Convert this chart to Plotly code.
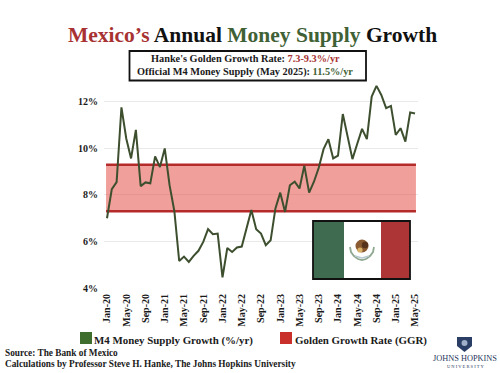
import plotly.graph_objects as go

W, H = 500, 373
ML, MR, MT, MB = 104, 82, 81, 85
month_names = ["Jan", "Feb", "Mar", "Apr", "May", "Jun", "Jul", "Aug", "Sep", "Oct", "Nov", "Dec"]
months = [f"{month_names[i % 12]}-{20 + i // 12}" for i in range(65)]
m4_growth = [7.0, 8.25, 8.55, 11.77, 10.43, 9.57, 10.8, 8.38, 8.54, 8.5, 9.66, 9.2, 10.0,
             8.42, 7.3, 5.16, 5.35, 5.12, 5.38, 5.6, 5.98, 6.53, 6.31, 6.34, 4.46, 5.72,
             5.55, 5.74, 5.78, 6.55, 7.35, 6.53, 6.34, 5.84, 6.05, 7.42, 8.1, 7.27, 8.42,
             8.57, 8.28, 9.26, 8.1, 8.57, 9.17, 9.97, 10.4, 9.57, 9.69, 11.48, 10.58, 9.54,
             10.2, 10.84, 10.4, 12.23, 12.69, 12.3, 11.73, 11.83, 10.58, 10.87, 10.29, 11.55, 11.5]
ggr_low = 7.3
ggr_high = 9.3
y_ticks = [4, 6, 8, 10, 12]
y_labels = ["4%", "6%", "8%", "10%", "12%"]
x_positions = list(range(len(months)))
tick_idx = x_positions[::4]
tick_labels = months[::4]
band_x = [-0.2, 64.2]

SERIF = "Liberation Serif"
INK = "#1a1a1a"
GREEN = "#3d4f2e"
RED = "#a83232"
BAND = "#b52a2a"


def px(x):
    return (x - ML) / (W - ML - MR)


def py(y):
    return (H - MB - y) / (H - MT - MB)


def rect(x0, y0, x1, y1, fill, line=None, lw=0, layer="above"):
    return dict(type="rect", xref="paper", yref="paper", x0=px(x0), x1=px(x1), y0=py(y0), y1=py(y1),
                fillcolor=fill, line=dict(color=line or fill, width=lw), layer=layer)


def circle(cx, cy, r, fill, line=None, lw=0):
    return dict(type="circle", xref="paper", yref="paper", x0=px(cx - r), x1=px(cx + r),
                y0=py(cy + r), y1=py(cy - r), fillcolor=fill,
                line=dict(color=line or fill, width=lw), layer="above")


def poly(points, fill):
    d = "M " + " L ".join(f"{px(a):.5f},{py(b):.5f}" for a, b in points) + " Z"
    return dict(type="path", xref="paper", yref="paper", path=d, fillcolor=fill,
                line=dict(color=fill, width=0), layer="above")


def stroke(points, color, lw):
    d = "M " + " L ".join(f"{px(a):.5f},{py(b):.5f}" for a, b in points)
    return dict(type="path", xref="paper", yref="paper", path=d,
                line=dict(color=color, width=lw), layer="above")


def label(x, y, text, size=10, color=INK, anchor="center", bold=True):
    return dict(xref="paper", yref="paper", x=px(x), y=py(y), text=f"<b>{text}</b>" if bold else text,
                showarrow=False, xanchor=anchor, yanchor="middle", align=anchor,
                font=dict(family=SERIF, size=size, color=color))


fig = go.Figure()
fig.add_trace(go.Scatter(x=band_x, y=[ggr_low, ggr_low], mode="lines",
                         line=dict(color=BAND, width=2.5), showlegend=False, hoverinfo="skip"))
fig.add_trace(go.Scatter(x=band_x, y=[ggr_high, ggr_high], mode="lines", fill="tonexty",
                         fillcolor="rgba(228,80,72,0.55)",
                         line=dict(color=BAND, width=2.5), showlegend=False, hoverinfo="skip"))
fig.add_trace(go.Scatter(x=x_positions, y=m4_growth, mode="lines",
                         line=dict(color=GREEN, width=2), showlegend=False))

shapes = [
    rect(129.5, 51, 366, 80.5, "white", "#111111", 1.8),
    # flag
    rect(313, 221, 344, 279, "#3f6b50"),
    rect(344, 221, 381, 279, "#ffffff"),
    rect(381, 221, 410, 279, "#ad3536"),
    rect(313, 221, 410, 279, "rgba(0,0,0,0)", "#111111", 1.8),
    # emblem
    stroke([(350, 247), (351, 252), (354, 256), (358, 259), (362, 260), (366, 259), (370, 256), (373, 252), (374, 247)],
           "#8fa890", 1.8),
    circle(362, 246, 6.5, "#8a5a30"),
    circle(365, 245, 3.2, "#55331c"),
    circle(360, 250, 2.6, "#d9b36a"),
    stroke([(355, 256), (362, 258), (369, 256)], "#b8cad0", 1.5),
    # legend keys
    rect(80, 332, 92, 344, "#3f6d2e"),
    rect(280, 332, 292, 344, "#c9302c"),
    # shield
    poly([(457, 337), (472, 337), (472, 346), (464.5, 352), (457, 346)], "#2b3f66"),
    circle(464.5, 343, 3, "#9fb0c8"),
]

annotations = [
    label(252, 35, '<span style="color:#a83232">Mexico’s</span> Annual '
                   '<span style="color:#3f6135">Money Supply</span> Growth', size=21.5, color="#111111"),
    label(245, 59, f'Hanke\'s Golden Growth Rate: <span style="color:#a83232">{ggr_low}-{ggr_high}%/yr</span>', size=10.3),
    label(245, 72, f'Official M4 Money Supply (May 2025): <span style="color:#3f6135">{m4_growth[-1]}%/yr</span>', size=10.3),
    label(92, 340, "M4 Money Supply Growth (%/yr)", size=10.9, anchor="left"),
    label(293, 340, "Golden Growth Rate (GGR)", size=10.9, anchor="left"),
    label(3, 353, "Source: The Bank of Mexico", size=9.3, anchor="left"),
    label(3, 364, "Calculations by Professor Steve H. Hanke, The Johns Hopkins University", size=9.3, anchor="left"),
    label(465, 358, "JOHNS HOPKINS", size=8.3, color="#27375c", bold=False),
    label(465, 366, "U N I V E R S I T Y", size=4.5, color="#27375c", bold=False),
]

fig.update_layout(
    width=W, height=H, paper_bgcolor="white", plot_bgcolor="white",
    margin=dict(l=ML, r=MR, t=MT, b=MB, autoexpand=False),
    shapes=shapes, annotations=annotations, showlegend=False,
    xaxis=dict(range=[-0.623, 64.623], tickmode="array", tickvals=tick_idx,
               ticktext=[f"<b>{t}</b>" for t in tick_labels], tickangle=-90, showgrid=False, zeroline=False,
               ticks="", ticklen=0, showline=False, ticklabelstandoff=3,
               tickfont=dict(family=SERIF, size=10, color=INK)),
    yaxis=dict(range=[4, 12.9], tickmode="array", tickvals=y_ticks,
               ticktext=[f"<b>{t}</b>" for t in y_labels], showgrid=True, gridcolor="#e9e9e9", gridwidth=1,
               zeroline=False, showline=False, ticks="", ticklabelstandoff=5,
               tickfont=dict(family=SERIF, size=10, color=INK)),
)

fig.write_html("out.html", config={"displayModeBar": False},
               post_script="document.body.style.margin='0';document.documentElement.style.overflow='hidden';")
